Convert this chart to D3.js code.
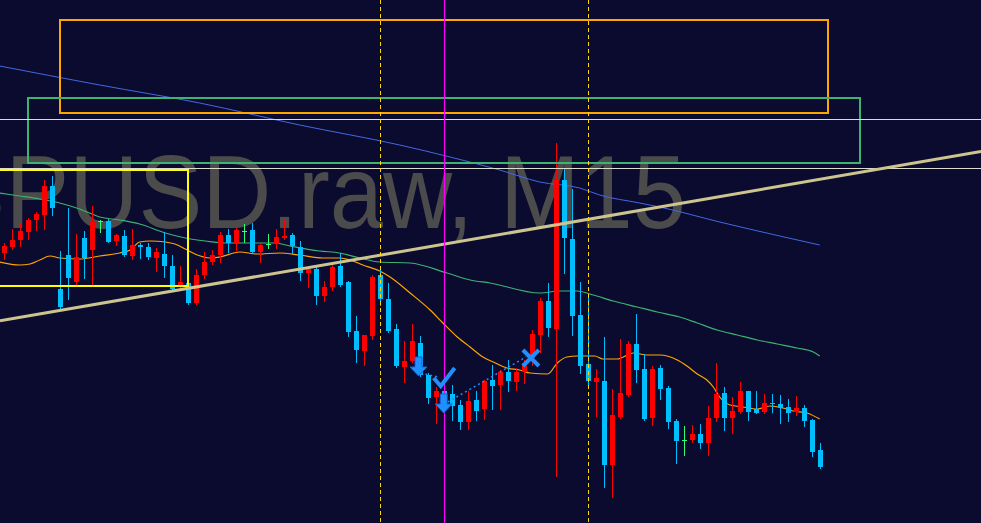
<!DOCTYPE html>
<html>
<head>
<meta charset="utf-8">
<script src="https://cdn.jsdelivr.net/npm/d3@7"></script>
<style>
  html, body { margin: 0; padding: 0; background: #0b0b2f; overflow: hidden; }
  svg { display: block; }
</style>
</head>
<body>
<svg id="chart"></svg>
<script>
const width = 981,
  height = 523;

// GBPUSD.raw M15 bars, oldest first
const open = [1.27747,1.27753,1.27760,1.27768,1.27780,1.27785,1.27814,1.27711,1.27745,1.27718,
  1.27762,1.27750,1.27779,1.27779,1.27759,1.27764,1.27744,1.27755,1.27753,1.27742,
  1.27746,1.27734,1.27714,1.27717,1.27697,1.27725,1.27738,1.27745,1.27765,1.27756,
  1.27769,1.27770,1.27748,1.27756,1.27756,1.27762,1.27765,1.27753,1.27727,1.27731,
  1.27704,1.27713,1.27734,1.27718,1.27669,1.27649,1.27664,1.27725,1.27701,1.27671,
  1.27633,1.27639,1.27657,1.27625,1.27603,1.27609,1.27606,1.27595,1.27578,1.27600,
  1.27591,1.27620,1.27615,1.27628,1.27618,1.27628,1.27642,1.27665,1.27699,1.27671,
  1.27820,1.27761,1.27685,1.27636,1.27618,1.27619,1.27535,1.27583,1.27605,1.27656,
  1.27631,1.27582,1.27632,1.27612,1.27579,1.27560,1.27560,1.27566,1.27557,1.27582,
  1.27607,1.27582,1.27588,1.27609,1.27591,1.27588,1.27597,1.27596,1.27593,1.27588,
  1.27592,1.27580,1.27550];
const high = [1.27757,1.27771,1.27777,1.27782,1.27788,1.27820,1.27824,1.27749,1.27792,1.27766,
  1.27769,1.27794,1.27780,1.27781,1.27766,1.27770,1.27771,1.27757,1.27757,1.27752,
  1.27768,1.27745,1.27734,1.27719,1.27731,1.27748,1.27750,1.27768,1.27771,1.27773,
  1.27776,1.27777,1.27757,1.27766,1.27771,1.27780,1.27767,1.27759,1.27733,1.27733,
  1.27719,1.27736,1.27747,1.27719,1.27684,1.27665,1.27725,1.27730,1.27717,1.27676,
  1.27659,1.27676,1.27664,1.27627,1.27613,1.27612,1.27615,1.27600,1.27609,1.27609,
  1.27620,1.27635,1.27630,1.27640,1.27632,1.27640,1.27670,1.27702,1.27717,1.27857,
  1.27832,1.27811,1.27718,1.27707,1.27631,1.27663,1.27611,1.27661,1.27659,1.27686,
  1.27646,1.27634,1.27635,1.27614,1.27581,1.27574,1.27575,1.27576,1.27594,1.27637,
  1.27613,1.27603,1.27618,1.27609,1.27609,1.27606,1.27606,1.27605,1.27601,1.27604,
  1.27595,1.27581,1.27557];
const low = [1.27741,1.27751,1.27754,1.27761,1.27770,1.27771,1.27785,1.27692,1.27701,1.27715,
  1.27722,1.27716,1.27768,1.27758,1.27755,1.27744,1.27741,1.27742,1.27741,1.27729,
  1.27723,1.27710,1.27712,1.27696,1.27696,1.27722,1.27736,1.27738,1.27748,1.27750,
  1.27758,1.27747,1.27738,1.27752,1.27752,1.27761,1.27747,1.27720,1.27713,1.27696,
  1.27699,1.27710,1.27714,1.27664,1.27638,1.27635,1.27661,1.27695,1.27668,1.27633,
  1.27618,1.27638,1.27624,1.27597,1.27577,1.27595,1.27580,1.27571,1.27571,1.27580,
  1.27581,1.27591,1.27591,1.27609,1.27610,1.27617,1.27635,1.27648,1.27664,1.27524,
  1.27727,1.27665,1.27627,1.27613,1.27584,1.27513,1.27503,1.27582,1.27604,1.27618,
  1.27580,1.27575,1.27601,1.27572,1.27537,1.27545,1.27558,1.27552,1.27545,1.27579,
  1.27570,1.27567,1.27587,1.27580,1.27587,1.27587,1.27588,1.27577,1.27579,1.27585,
  1.27574,1.27544,1.27532];
const close = [1.27754,1.27760,1.27769,1.27780,1.27786,1.27814,1.27792,1.27693,1.27722,1.27743,
  1.27742,1.27779,1.27779,1.27758,1.27765,1.27745,1.27755,1.27753,1.27743,1.27748,
  1.27734,1.27711,1.27718,1.27697,1.27725,1.27738,1.27745,1.27765,1.27757,1.27770,
  1.27769,1.27748,1.27755,1.27756,1.27763,1.27764,1.27754,1.27727,1.27731,1.27704,
  1.27713,1.27733,1.27715,1.27668,1.27650,1.27665,1.27723,1.27701,1.27669,1.27634,
  1.27639,1.27659,1.27625,1.27602,1.27609,1.27601,1.27594,1.27578,1.27599,1.27589,
  1.27619,1.27614,1.27628,1.27619,1.27628,1.27637,1.27666,1.27699,1.27672,1.27820,
  1.27762,1.27684,1.27634,1.27619,1.27622,1.27535,1.27585,1.27607,1.27656,1.27630,
  1.27581,1.27631,1.27611,1.27578,1.27559,1.27560,1.27566,1.27557,1.27582,1.27606,
  1.27582,1.27589,1.27609,1.27588,1.27587,1.27597,1.27596,1.27592,1.27587,1.27592,
  1.27579,1.27548,1.27533];

// moving averages, sampled as [bar index, price]
const maFast = [[-0.6,1.27738],[1.9,1.27735],[3.2,1.27736],[4.4,1.27740],[5.7,1.27744],[6.9,1.27742],
  [9.4,1.27741],[11.9,1.27744],[14.4,1.27747],[15.7,1.27750],[16.9,1.27758],[18.2,1.27759],
  [20.1,1.27758],[21.3,1.27756],[22.6,1.27751],[23.8,1.27746],[25.7,1.27742],[26.9,1.27743],
  [29.4,1.27748],[31.6,1.27746],[34.4,1.27747],[36.9,1.27745],[39.8,1.27742],[41.9,1.27742],
  [43.2,1.27740],[44.8,1.27735],[46.9,1.27729],[48.2,1.27723],[50.7,1.27707],[53.2,1.27690],
  [54.8,1.27677],[56.6,1.27663],[58.2,1.27653],[59.8,1.27643],[61.1,1.27638],[62.8,1.27632],
  [64.4,1.27630],[65.7,1.27627],[67.9,1.27626],[69.1,1.27637],[70.3,1.27643],[71.6,1.27644],
  [73.8,1.27644],[74.8,1.27641],[76.6,1.27641],[78.6,1.27647],[80.3,1.27645],[81.9,1.27645],
  [84.1,1.27640],[85.3,1.27634],[86.6,1.27626],[87.8,1.27620],[88.6,1.27613],[89.4,1.27603],
  [90.7,1.27595],[92.3,1.27593],[94.1,1.27591],[95.7,1.27594],[97.3,1.27592],[98.6,1.27589],
  [100.3,1.27587],[101.9,1.27581]];
const maMid = [[-0.6,1.27807],[1.9,1.27804],[4.4,1.27801],[6.9,1.27797],[9.4,1.27791],[11.9,1.27783],
  [14.4,1.27780],[16.9,1.27776],[20.1,1.27767],[22.6,1.27762],[25.1,1.27759],[27.6,1.27757],
  [33.8,1.27757],[35.7,1.27754],[39.4,1.27749],[41.9,1.27747],[44.4,1.27742],[46.9,1.27738],
  [50.7,1.27737],[55.3,1.27727],[58.2,1.27720],[60.7,1.27717],[66.9,1.27707],[69.4,1.27709],
  [71.6,1.27709],[73.6,1.27705],[76.1,1.27699],[79.1,1.27693],[81.6,1.27688],[84.4,1.27683],
  [86.6,1.27677],[89.1,1.27670],[91.6,1.27665],[94.1,1.27660],[96.6,1.27656],[99.1,1.27652],
  [101.1,1.27648],[101.9,1.27644]];
const maSlow = [[-0.6,1.27934],[11.9,1.27915],[24.4,1.27897],[36.9,1.27875],[49.4,1.27855],
  [55.7,1.27843],[61.9,1.27830],[66.9,1.27818],[71.9,1.27812],[74.4,1.27805],[79.4,1.27797],
  [81.9,1.27793],[89.4,1.27778],[96.9,1.27764],[101.9,1.27755]];

// chart objects: [bar from, bar to, price top, price bottom]
const rectangles = [
  { x0: 6.9, x1: 102.9, p0: 1.27980, p1: 1.27887, color: "#ffa500", w: 2 },
  { x0: 2.9, x1: 106.9, p0: 1.27902, p1: 1.27837, color: "#3cb371", w: 2 },
  { x0: -1.5, x1: 22.9, p0: 1.27830, p1: 1.27714, color: "#ffff00", w: 2 }
];
const hLines = [1.27881, 1.27832];
const vDotted = [47, 73];
const vSolid = [55];
const trend = [[0, 1.27680], [100, 1.27818]];
// trades: sell arrows, close marks and the dotted lines between them
const sellArrows = [[51.75, 1.27624], [54.9, 1.27587]];
const winMarks = [[54.9, 1.27623]];
const lossMarks = [[65.8, 1.27642]];
const tradeLines = [[[52, 1.27627], [54.2, 1.27623]], [[55.4, 1.27598], [65.2, 1.27643]]];

const svg = d3.select("#chart").attr("width", width).attr("height", height);

const x = d3.scaleLinear().domain([0, 102]).range([4.5, 820.5]);
const y = d3.scaleLinear().domain([1.27477, 1.28]).range([height, 0]);

svg.append("rect").attr("width", width).attr("height", height).attr("fill", "#0b0b2f");

// symbol watermark (left part runs off the window, as in MT)
svg.append("text")
  .attr("transform", "translate(686,228) scale(0.92,1)")
  .attr("text-anchor", "end")
  .attr("font-family", "'Liberation Sans', Arial, sans-serif")
  .attr("font-size", 104)
  .attr("fill", "#4b4b4b")
  .text("GBPUSD.raw, M15");

// moving averages
const line = d3.line().x((d) => x(d[0])).y((d) => y(d[1])).curve(d3.curveMonotoneX);
svg.append("path").attr("d", line(maSlow)).attr("fill", "none").attr("stroke", "#4169e1").attr("stroke-width", 1);
svg.append("path").attr("d", line(maMid)).attr("fill", "none").attr("stroke", "#3cb371").attr("stroke-width", 1.2);
svg.append("path").attr("d", line(maFast)).attr("fill", "none").attr("stroke", "#ffa500").attr("stroke-width", 1.2);

// candles
const bars = d3.range(open.length).map((i) => ({ i, o: open[i], h: high[i], l: low[i], c: close[i] }));
const color = (d) => (d.c > d.o ? "#ff0000" : d.c < d.o ? "#00bfff" : "#30ff7a");
const g = svg.append("g");
g.selectAll("line.wick").data(bars).join("line")
  .attr("class", "wick")
  .attr("x1", (d) => x(d.i)).attr("x2", (d) => x(d.i))
  .attr("y1", (d) => Math.round(y(d.h))).attr("y2", (d) => Math.round(y(d.l)) + 1)
  .attr("stroke", color).attr("stroke-width", 1);
g.selectAll("rect.body").data(bars).join("rect")
  .attr("class", "body")
  .attr("x", (d) => x(d.i) - 2.5)
  .attr("width", 5)
  .attr("y", (d) => Math.round(y(Math.max(d.o, d.c))))
  .attr("height", (d) => Math.max(1, Math.round(Math.abs(y(d.o) - y(d.c)))))
  .attr("fill", color);

// objects
rectangles.forEach((r) => {
  svg.append("rect")
    .attr("x", Math.round(x(r.x0))).attr("y", Math.round(y(r.p0)))
    .attr("width", Math.round(x(r.x1) - x(r.x0))).attr("height", Math.round(y(r.p1) - y(r.p0)))
    .attr("fill", "none").attr("stroke", r.color).attr("stroke-width", r.w);
});
hLines.forEach((p) => {
  svg.append("line").attr("x1", 0).attr("x2", width)
    .attr("y1", Math.round(y(p)) + 0.5).attr("y2", Math.round(y(p)) + 0.5)
    .attr("stroke", "#dcdcd0").attr("stroke-width", 1);
});

const slope = (trend[1][1] - trend[0][1]) / (trend[1][0] - trend[0][0]);
const tx0 = x.invert(0), tx1 = x.invert(width);
svg.append("line")
  .attr("x1", 0).attr("y1", y(trend[0][1] + slope * (tx0 - trend[0][0])))
  .attr("x2", width).attr("y2", y(trend[0][1] + slope * (tx1 - trend[0][0])))
  .attr("stroke", "#cdc58f").attr("stroke-width", 3);

vDotted.forEach((i) => {
  svg.append("line").attr("x1", x(i)).attr("x2", x(i)).attr("y1", 0).attr("y2", height)
    .attr("stroke", "#ffd700").attr("stroke-width", 1).attr("stroke-dasharray", "4,3");
});
vSolid.forEach((i) => {
  svg.append("line").attr("x1", x(i)).attr("x2", x(i)).attr("y1", 0).attr("y2", height)
    .attr("stroke", "#ff00ff").attr("stroke-width", 1.2);
});

// trade markers
const tradeBlue = "#1e90ff";
tradeLines.forEach((t) => {
  svg.append("line")
    .attr("x1", x(t[0][0])).attr("y1", y(t[0][1]))
    .attr("x2", x(t[1][0])).attr("y2", y(t[1][1]))
    .attr("stroke", tradeBlue).attr("stroke-width", 1.5).attr("stroke-dasharray", "2,3");
});
sellArrows.forEach((a) => {
  svg.append("path")
    .attr("transform", `translate(${x(a[0])},${y(a[1])})`)
    .attr("d", "M-3.5,-19L3.5,-19L3.5,-9L8.5,-9L0,0L-8.5,-9L-3.5,-9Z")
    .attr("fill", tradeBlue).attr("stroke", "#1a5fd0").attr("stroke-width", 1);
});
winMarks.forEach((m) => {
  svg.append("path")
    .attr("transform", `translate(${x(m[0])},${y(m[1])})`)
    .attr("d", "M-10,1L-3,9L11,-9")
    .attr("fill", "none").attr("stroke", tradeBlue).attr("stroke-width", 4);
});
lossMarks.forEach((m) => {
  svg.append("path")
    .attr("transform", `translate(${x(m[0])},${y(m[1])})`)
    .attr("d", "M-8,-8L8,8M-8,8L8,-8")
    .attr("fill", "none").attr("stroke", tradeBlue).attr("stroke-width", 4);
});
</script>
</body>
</html>
